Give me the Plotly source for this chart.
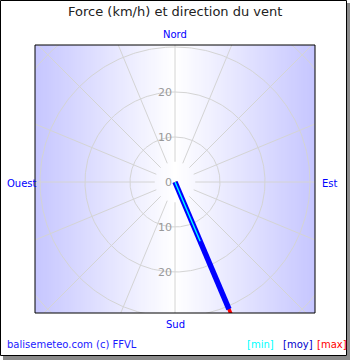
import numpy as np
import plotly.graph_objects as go

# ---- data ----
series_names = ["min", "moy", "max"]
series_dir_deg = [157, 157, 157]        # compass direction (deg, clockwise from north)
series_speed = [14.3, 30.7, 34.0]        # km/h
series_colors = ["#00ffff", "#0000ff", "#ff0000"]
legend_colors = ["#00ffff", "#0000cc", "#ff0000"]
grid_radii = [10, 20, 30, 40]
radial_tick_values = [0, 10, 20]
compass_labels = ["Nord", "Est", "Sud", "Ouest"]
spoke_count = 16

W, H = 350, 360
PX = 4.5                  # pixels per km/h
cx, cy = 175, 182         # centre in pixels
L, R, T, B = 35, 315, 45, 313

xr = [(L - cx) / PX, (R - cx) / PX]
yr = [-(B - cy) / PX, (cy - T) / PX]

fig = go.Figure()

# gradient background
xe = np.linspace(xr[0], xr[1], 141)
xc = (xe[:-1] + xe[1:]) / 2
z = [list(np.abs(xc) / xr[1])]
fig.add_trace(go.Heatmap(x=xe, y=[yr[0], yr[1]], z=z, zmin=0, zmax=1,
                         colorscale=[[0, "#ffffff"], [1, "rgb(198,198,255)"]],
                         showscale=False, hoverinfo="skip"))

grid_col = "#d4d4d4"
t = np.linspace(0, 2 * np.pi, 361)
for r in grid_radii:
    fig.add_trace(go.Scatter(x=r * np.sin(t), y=r * np.cos(t), mode="lines",
                             line=dict(color=grid_col, width=1), hoverinfo="skip"))
for k in range(spoke_count):
    a = np.deg2rad(k * 360 / spoke_count)
    r0, r1 = 4.5, 60
    fig.add_trace(go.Scatter(x=[r0 * np.sin(a), r1 * np.sin(a)],
                             y=[r0 * np.cos(a), r1 * np.cos(a)], mode="lines",
                             line=dict(color=grid_col, width=1), hoverinfo="skip"))

# wind lines: max (bottom), moy, min (top)
widths = {"min": 1.4, "moy": 5.5, "max": 3.5}
for i in [2, 1, 0]:
    a = np.deg2rad(series_dir_deg[i])
    r = series_speed[i]
    fig.add_trace(go.Scatter(x=[0, r * np.sin(a)], y=[0, r * np.cos(a)], mode="lines",
                             line=dict(color=series_colors[i], width=widths[series_names[i]]),
                             hoverinfo="skip"))

annotations = []
# radial tick labels
for v in radial_tick_values:
    ys = [0] if v == 0 else [v, -v]
    for yv in ys:
        annotations.append(dict(x=-0.3, y=yv, xref="x", yref="y", text=str(v),
                                showarrow=False, xanchor="right", yanchor="middle",
                                font=dict(size=11, color="#999999")))

font = "DejaVu Sans"
annotations.append(dict(x=175 / W, y=1 - 11 / H, xref="paper", yref="paper",
                        text="Force (km/h) et direction du vent", showarrow=False,
                        xanchor="center", yanchor="middle", font=dict(size=13, color="#222222")))
comp_pos = {"Nord": (175, 34, "center"), "Sud": (175, 324, "center"),
            "Est": (320, 183, "left"), "Ouest": (5, 183, "left")}
for lab in compass_labels:
    px, py, anc = comp_pos[lab]
    annotations.append(dict(x=px / W, y=1 - py / H, xref="paper", yref="paper", text=lab,
                            showarrow=False, xanchor=anc, yanchor="middle",
                            font=dict(size=10, color="#0000ff")))
annotations.append(dict(x=5 / W, y=1 - 344 / H, xref="paper", yref="paper",
                        text="balisemeteo.com (c) FFVL", showarrow=False, xanchor="left",
                        yanchor="middle", font=dict(size=10, color="#1a1aff")))
leg_x = [245, 281, 315]
for i, n in enumerate(series_names):
    annotations.append(dict(x=leg_x[i] / W, y=1 - 344 / H, xref="paper", yref="paper",
                            text="[" + n + "]", showarrow=False, xanchor="left",
                            yanchor="middle", font=dict(size=10, color=legend_colors[i])))

shapes = [
    dict(type="rect", xref="paper", yref="paper", x0=L / W, x1=R / W, y0=1 - B / H, y1=1 - T / H,
         line=dict(color="black", width=1), layer="above"),
    dict(type="rect", xref="paper", yref="paper", x0=347 / W, x1=1, y0=0, y1=1 - 3 / H,
         line=dict(width=0), fillcolor="#8a8a8a"),
    dict(type="rect", xref="paper", yref="paper", x0=3 / W, x1=1, y0=0, y1=1 - 356 / H,
         line=dict(width=0), fillcolor="#8a8a8a"),
    dict(type="rect", xref="paper", yref="paper", x0=0.5 / W, x1=346.5 / W, y0=1 - 355.5 / H,
         y1=1 - 0.5 / H, line=dict(color="black", width=1)),
]

fig.update_layout(
    width=W, height=H, margin=dict(l=0, r=0, t=0, b=0),
    paper_bgcolor="white", plot_bgcolor="white", showlegend=False,
    font=dict(family=font),
    xaxis=dict(range=xr, domain=[L / W, R / W], visible=False, fixedrange=True),
    yaxis=dict(range=yr, domain=[1 - B / H, 1 - T / H], visible=False, fixedrange=True),
    annotations=annotations, shapes=shapes,
)
fig.write_html("out.html")
